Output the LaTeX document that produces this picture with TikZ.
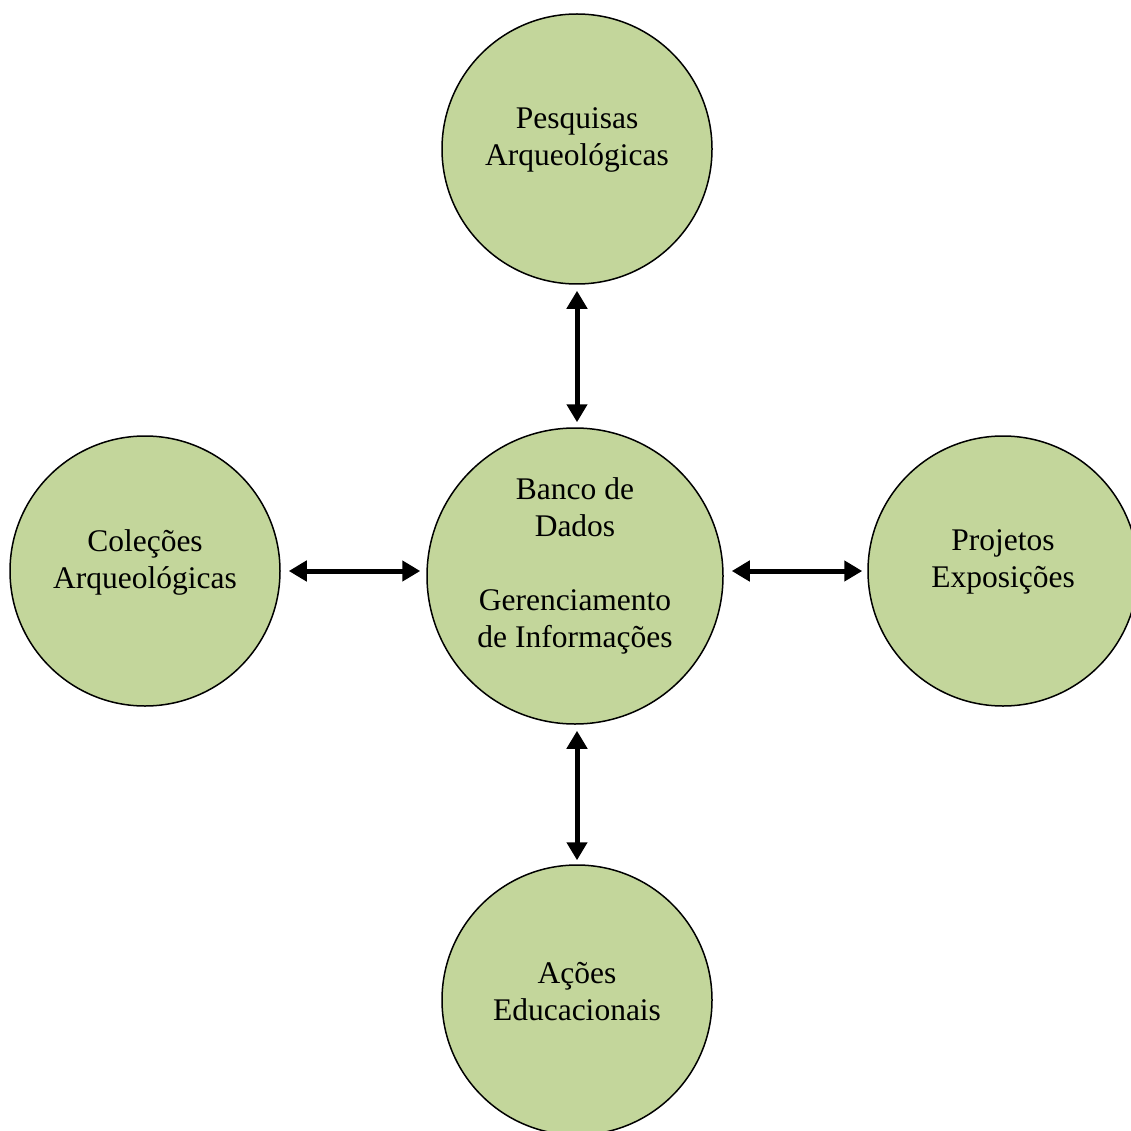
\documentclass[tikz,border=0pt]{standalone}
\usepackage{fontspec}
\setmainfont{Liberation Serif}
\usetikzlibrary{arrows.meta}
\definecolor{leaf}{HTML}{C3D69B}
\begin{document}
\begin{tikzpicture}[x=1pt,y=-1pt,
  bubble/.style={circle,draw=black,line width=1.5pt,fill=leaf,inner sep=0pt},
  txt/.style={align=center,font=\fontsize{31.5}{37}\selectfont,inner sep=0pt},
  link/.style={line width=5pt,{Triangle[width=20pt,length=18pt]}-{Triangle[width=20pt,length=18pt]}}]
\useasboundingbox (0,0) rectangle (1131,1131);
\node[bubble,minimum size=270pt] (top) at (577,149) {};
\node[bubble,minimum size=296pt] (mid) at (575,576) {};
\node[bubble,minimum size=270pt] (lft) at (145,571) {};
\node[bubble,minimum size=270pt] (rgt) at (1003,571) {};
\node[bubble,minimum size=270pt] (bot) at (577,1000) {};
\node[txt] (ttop) at (577,140) {Pesquisas\\Arqueológicas};
\node[txt] (tmid) at (575,566) {Banco de\\Dados\\[37pt]Gerenciamento\\de Informações};
\node[txt] (tlft) at (145,562) {Coleções\\Arqueológicas};
\node[txt] (trgt) at (1003,562) {Projetos\\Exposições};
\node[txt] (tbot) at (577,992) {Ações\\Educacionais};
\draw[link,shorten <=6pt,shorten >=5pt] (top.south) -- (top.south |- mid.north);
\draw[link,shorten <=6pt,shorten >=4pt] (bot.north |- mid.south) -- (bot.north);
\draw[link,shorten <=8pt,shorten >=6pt] (lft.east) -- (lft.east -| mid.west);
\draw[link,shorten <=8pt,shorten >=5pt] (rgt.west -| mid.east) -- (rgt.west);
\end{tikzpicture}
\end{document}
